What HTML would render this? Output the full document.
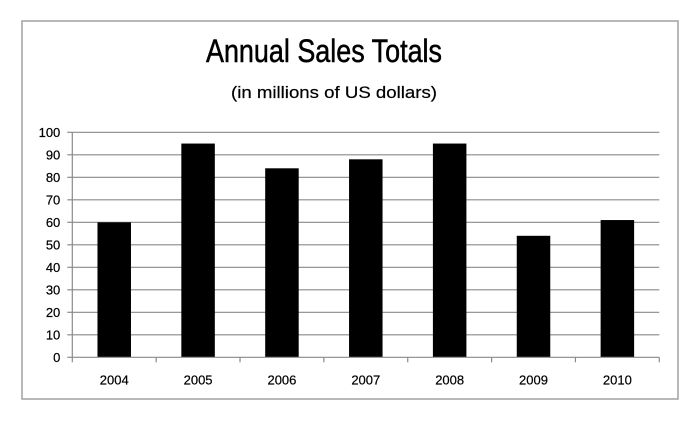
<!DOCTYPE html>
<html><head><meta charset="utf-8"><style>
html,body{margin:0;padding:0;background:#fff;}
svg{display:block;font-family:"Liberation Sans",sans-serif;}
</style></head><body>
<svg id="chart" width="699" height="421">
<rect x="22" y="21" width="656" height="378" fill="#fff" stroke="#a0a0a0" stroke-width="1.5"/>
<text x="324" y="62" text-anchor="middle" font-size="32" textLength="236" lengthAdjust="spacingAndGlyphs" fill="#000" stroke="#000" stroke-width="0.5">Annual Sales Totals</text>
<text x="334" y="98" text-anchor="middle" font-size="17" textLength="206" lengthAdjust="spacingAndGlyphs" fill="#000" stroke="#000" stroke-width="0.2">(in millions of US dollars)</text>
<g id="grid"></g><g id="bars"></g><g id="axes"></g>
</svg>
<script>
const categories = ["2004","2005","2006","2007","2008","2009","2010"];
const sales = [60, 95, 84, 88, 95, 54, 61];
const yTicks = [0,10,20,30,40,50,60,70,80,90,100];
const NS="http://www.w3.org/2000/svg";
const x0=72.3, x1=659.3, yTop=132.3, yBot=357.3, yMax=100;
const band=(x1-x0)/categories.length, barW=33.5;
function yScale(v){return yBot-(v/yMax)*(yBot-yTop);}
function xCenter(i){return x0+band*(i+0.5);}
function mk(tag,attrs,parent){const e=document.createElementNS(NS,tag);for(const k in attrs)e.setAttribute(k,attrs[k]);parent.appendChild(e);return e;}
const grid=document.getElementById('grid'),bars=document.getElementById('bars'),axes=document.getElementById('axes');
yTicks.forEach(t=>{
  const y=yScale(t);
  if(t>0){const l=mk('line',{x1:x0,x2:x1,y1:y,y2:y,stroke:'#8a8a8a','stroke-width':1.2},grid);
  
  }
  const tk=mk('line',{x1:x0-5,x2:x0,y1:y,y2:y,stroke:'#8a8a8a','stroke-width':1.2},axes);
  
  
  const tx=mk('text',{x:x0-12,y:y+4.5,'text-anchor':'end','font-size':13,fill:'#000',stroke:'#000','stroke-width':0.2},axes);
  tx.textContent=t;
  
  
});
sales.forEach((v,i)=>{
  const r=mk('rect',{x:xCenter(i)-barW/2,y:yScale(v),width:barW,height:yBot-yScale(v),fill:'#000'},bars);
  
  
  const tx=mk('text',{x:xCenter(i),y:yBot+27,'text-anchor':'middle','font-size':13,fill:'#000',stroke:'#000','stroke-width':0.2},axes);
  tx.textContent=categories[i];
  
  
});
for(let i=0;i<=categories.length;i++){
  const x=x0+band*i;
  const t=mk('line',{x1:x,x2:x,y1:yBot,y2:yBot+5,stroke:'#8a8a8a','stroke-width':1.2},axes);
  
  
}
const ya=mk('line',{x1:x0,x2:x0,y1:yTop,y2:yBot,stroke:'#8a8a8a','stroke-width':1.2},axes);


const xa=mk('line',{x1:x0,x2:x1,y1:yBot,y2:yBot,stroke:'#8a8a8a','stroke-width':1.2},axes);


</script>
</body></html>
